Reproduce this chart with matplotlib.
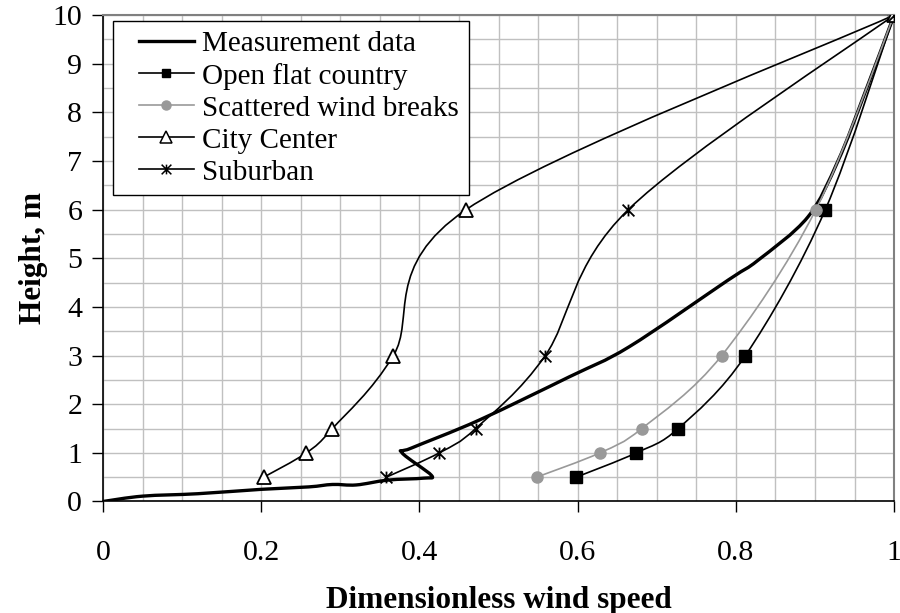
import numpy as np
import matplotlib
matplotlib.use("Agg")
import matplotlib.pyplot as plt
from matplotlib.path import Path
from matplotlib.patches import PathPatch
from matplotlib.lines import Line2D
from matplotlib.legend_handler import HandlerLine2D

plt.rcParams["font.family"] = ["Liberation Serif", "DejaVu Serif"]

# model profiles, read at the marker heights
heights = [0.5, 1.0, 1.5, 3.0, 6.0, 10.0]
open_flat = [0.598, 0.674, 0.727, 0.812, 0.913, 1.0]
scattered = [0.548, 0.628, 0.681, 0.782, 0.901, 1.0]
city_center = [0.203, 0.257, 0.290, 0.367, 0.459, 1.0]
suburban = [0.358, 0.425, 0.471, 0.559, 0.664, 1.0]

# measured profile
meas_x = [0.0, 0.05, 0.12, 0.20, 0.26, 0.29, 0.32, 0.36, 0.405, 0.415,
          0.378, 0.39, 0.475, 0.589, 0.665, 0.79, 0.828, 0.891, 0.929, 0.963, 1.0]
meas_y = [0.0, 0.11, 0.16, 0.25, 0.30, 0.35, 0.34, 0.44, 0.48, 0.54,
          1.0, 1.1, 1.67, 2.56, 3.18, 4.55, 4.96, 5.85, 7.0, 8.4, 10.0]

xticks = [0, 0.2, 0.4, 0.6, 0.8, 1]
xtick_labels = ["0", "0.2", "0.4", "0.6", "0.8", "1"]
yticks = list(range(0, 11))

labels = ["Measurement data", "Open flat country", "Scattered wind breaks",
          "City Center", "Suburban"]

GREY = "#999999"


def smooth_path(xs, ys):
    # excel style smoothed line: cubic bezier through every point
    p = np.column_stack([xs, ys]).astype(float)
    n = len(p)
    verts = [p[0]]
    codes = [Path.MOVETO]
    for i in range(n - 1):
        p0 = p[i - 1] if i > 0 else p[i]
        p1 = p[i]
        p2 = p[i + 1]
        p3 = p[i + 2] if i + 2 < n else p[i + 1]
        c1 = p1 + (p2 - p0) / 6.0
        c2 = p2 - (p3 - p1) / 6.0
        verts += [c1, c2, p2]
        codes += [Path.CURVE4] * 3
    return Path(verts, codes)


def add_smooth(ax, xs, ys, color, lw):
    patch = PathPatch(smooth_path(xs, ys), facecolor="none", edgecolor=color,
                      lw=lw, capstyle="round", joinstyle="round", zorder=3)
    ax.add_patch(patch)


star = Path([(0, -1), (0, 1), (-1, -1), (1, 1), (-1, 1), (1, -1)],
            [Path.MOVETO, Path.LINETO, Path.MOVETO, Path.LINETO, Path.MOVETO, Path.LINETO])

fig = plt.figure(figsize=(9, 6.13), dpi=100)
ax = fig.add_axes([0.1145, 0.1819, 0.8790, 0.7936])

lw_thin = 1.2
lw_meas = 2.4
add_smooth(ax, meas_x, meas_y, "black", lw_meas)
add_smooth(ax, open_flat, heights, "black", lw_thin)
add_smooth(ax, scattered, heights, GREY, lw_thin)
add_smooth(ax, city_center, heights, "black", lw_thin)
add_smooth(ax, suburban, heights, "black", lw_thin)

ax.plot(open_flat, heights, ls="none", marker="s", ms=8, color="black", zorder=4)
ax.plot(scattered, heights, ls="none", marker="o", ms=8, color=GREY, zorder=4)
ax.plot(city_center, heights, ls="none", marker="^", ms=9.5, mfc="white",
        mec="black", mew=1.3, zorder=4)
ax.plot(suburban, heights, ls="none", marker=star, ms=8.5, color="black",
        mew=1.3, zorder=4)

ax.set_xlim(0, 1)
ax.set_ylim(0, 10)
ax.set_xticks(xticks)
ax.set_xticklabels(xtick_labels)
ax.set_yticks(yticks)
ax.set_xticks(np.arange(0, 1.0001, 0.05), minor=True)
ax.set_yticks(np.arange(0, 10.001, 0.5), minor=True)
ax.grid(which="both", color="#c0c0c0", lw=1.0, zorder=0)
ax.set_axisbelow(True)
ax.tick_params(which="major", direction="out", length=8, width=1, labelsize=21.5)
ax.tick_params(axis="x", pad=20)
ax.tick_params(axis="y", pad=7)
ax.tick_params(which="minor", length=0)

for s in ["left", "bottom"]:
    ax.spines[s].set_color("black")
    ax.spines[s].set_linewidth(1.2)
for s in ["top", "right"]:
    ax.spines[s].set_color("#808080")
    ax.spines[s].set_linewidth(1.5)

ax.set_xlabel("Dimensionless wind speed", fontsize=22.5, fontweight="bold", labelpad=14)
ax.set_ylabel("Height, m", fontsize=22.5, fontweight="bold", labelpad=3)

handles = [
    Line2D([], [], color="black", lw=lw_meas),
    Line2D([], [], color="black", lw=lw_thin, marker="s", ms=6),
    Line2D([], [], color=GREY, lw=lw_thin, marker="o", ms=6.5),
    Line2D([], [], color="black", lw=lw_thin, marker="^", ms=8, mfc="white", mew=1.1),
    Line2D([], [], color="black", lw=lw_thin, marker=star, ms=7, mew=1.1),
]
leg = ax.legend(handles, labels, loc="upper left", bbox_to_anchor=(0.0125, 0.9875),
                borderaxespad=0, fontsize=21, frameon=True, fancybox=False,
                edgecolor="black", framealpha=1, handlelength=2.45,
                handletextpad=0.29, labelspacing=0.19, borderpad=0.33,
                handler_map={Line2D: HandlerLine2D(xpad=0.55)})
leg.get_frame().set_linewidth(1.0)

fig.savefig("out.png", dpi=100)
